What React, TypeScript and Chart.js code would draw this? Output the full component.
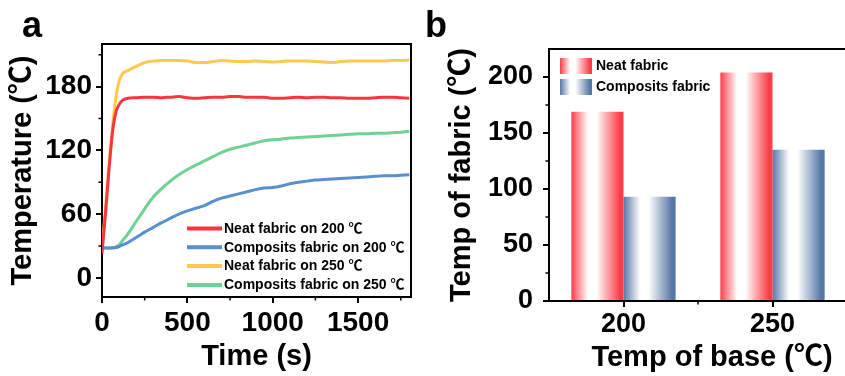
import React, { useEffect, useRef } from 'react';
import { Chart, registerables } from 'chart.js';

Chart.register(...registerables);

const FONT = "'Liberation Sans', Arial, 'Noto Sans CJK SC', sans-serif";

// ---------- Panel a data ----------
const timeSeconds = [0, 20, 40, 60, 80, 100, 120, 150, 200, 250, 300, 350, 400, 450, 500, 550, 600, 650, 700, 750, 800, 850, 900, 950, 1000, 1050, 1100, 1150, 1200, 1250, 1300, 1350, 1400, 1450, 1500, 1550, 1600, 1650, 1700, 1750, 1800];
const neatOn200 = [23, 60, 100, 135, 155, 163, 167, 169, 169.5, 170, 170, 169.5, 170, 170.5, 169.5, 169, 169.5, 170, 170, 170.5, 170.5, 170, 170, 170, 169, 169, 169.5, 170, 169.5, 170, 170, 169.5, 169.5, 169, 169, 169, 169.5, 170, 170, 169.5, 169];
const compositsOn200 = [28, 28, 28, 28, 28.5, 29.5, 31, 33, 38, 43, 47.5, 52, 56, 60, 63, 65.5, 68, 72, 75, 77, 79, 81, 83, 84.5, 85, 86.5, 88.5, 90, 91, 92, 92.5, 93, 93.5, 94, 94.5, 95, 95.5, 96, 96, 96.5, 97];
const neatOn250 = [27, 65, 105, 140, 168, 185, 192, 195, 199, 202.5, 204, 204.5, 204.5, 204.5, 204, 202.5, 202.5, 203.5, 204.5, 204, 203.5, 203.5, 204, 203.5, 203, 203.5, 204, 204, 204, 203.5, 203, 202.5, 203.5, 204, 204, 204, 204, 204, 204.5, 204.5, 205];
const compositsOn250 = [28, 28, 28, 28.5, 29, 31, 35, 41, 53, 65, 76, 84, 91, 97, 102, 106, 110, 114, 118, 121, 123, 125, 127, 129, 130, 130.5, 131.5, 132, 132.5, 133, 133.5, 134, 134.5, 135, 135.5, 135.5, 136, 136, 136.5, 137, 138];
const lineLabels = ['Neat fabric on 200 ℃', 'Composits fabric on 200 ℃', 'Neat fabric on 250 ℃', 'Composits fabric on 250 ℃'];
const lineColors = ['#f5363c', '#5790cc', '#ffc94d', '#6ed295'];
const yTicksA = [0, 60, 120, 180];
const yMinorA = [30, 90, 150, 210];
const xTicksA = [0, 500, 1000, 1500];
const xMinorA = [250, 750, 1250, 1750];

// ---------- Panel b data ----------
const baseTemps = ['200', '250'];
const neatFabric = [169, 204];
const compositsFabric = [93, 135];
const barLabels = ['Neat fabric', 'Composits fabric'];
const barColors = ['rgb(250,62,72)', 'rgb(86,120,166)'];
const yTicksB = [0, 50, 100, 150, 200];
const yMinorB = [25, 75, 125, 175];

function makeGrad(ctx: CanvasRenderingContext2D, x0: number, x1: number, color: string) {
  const g = ctx.createLinearGradient(x0, 0, x1, 0);
  g.addColorStop(0, color);
  g.addColorStop(0.32, '#ffffff');
  g.addColorStop(0.48, '#ffffff');
  g.addColorStop(0.93, color);
  g.addColorStop(1, color);
  return g;
}

function barGradient(c: any) {
  const chart = c.chart;
  const color = barColors[c.datasetIndex] || '#000';
  const xs = chart.scales && chart.scales.x;
  if (!xs || c.dataIndex === undefined || !chart.chartArea) return color;
  const center = xs.getPixelForValue(c.dataIndex);
  const cat = (xs.right - xs.left) / baseTemps.length;
  const size = cat * 0.7;
  const barW = size / 2;
  const left = center - size / 2 + c.datasetIndex * barW;
  return makeGrad(chart.ctx, left, left + barW, color);
}

const framePluginA = {
  id: 'frameA',
  afterDraw(chart: any) {
    const { ctx, chartArea: ca, scales } = chart;
    ctx.save();
    ctx.strokeStyle = '#000';
    ctx.lineWidth = 2;
    ctx.beginPath();
    ctx.moveTo(ca.left, ca.top);
    ctx.lineTo(ca.right, ca.top);
    ctx.lineTo(ca.right, ca.bottom);
    ctx.stroke();
    ctx.lineWidth = 1.5;
    ctx.beginPath();
    yMinorA.forEach((v) => {
      const y = scales.y.getPixelForValue(v);
      ctx.moveTo(ca.left - 3.5, y);
      ctx.lineTo(ca.left, y);
    });
    xMinorA.forEach((v) => {
      const x = scales.x.getPixelForValue(v);
      ctx.moveTo(x, ca.bottom);
      ctx.lineTo(x, ca.bottom + 3.5);
    });
    ctx.stroke();
    // legend
    ctx.font = `bold 14px ${FONT}`;
    ctx.textBaseline = 'middle';
    ctx.textAlign = 'left';
    chart.data.datasets.forEach((ds: any, i: number) => {
      const y = 228.5 + i * 18.8;
      ctx.strokeStyle = ds.borderColor;
      ctx.lineWidth = 4;
      ctx.beginPath();
      ctx.moveTo(187, y);
      ctx.lineTo(222, y);
      ctx.stroke();
      ctx.fillStyle = '#000';
      ctx.fillText(ds.label, 224, y + 0.5);
    });
    // panel letter
    ctx.font = `bold 36px ${FONT}`;
    ctx.textBaseline = 'alphabetic';
    ctx.fillStyle = '#000';
    ctx.fillText('a', 22, 37);
    ctx.restore();
  },
};

const framePluginB = {
  id: 'frameB',
  afterDraw(chart: any) {
    const { ctx, chartArea: ca, scales } = chart;
    ctx.save();
    ctx.strokeStyle = '#000';
    ctx.lineWidth = 2;
    ctx.beginPath();
    ctx.moveTo(ca.left, ca.top);
    ctx.lineTo(ca.right, ca.top);
    ctx.lineTo(ca.right, ca.bottom);
    ctx.stroke();
    ctx.lineWidth = 1.5;
    ctx.beginPath();
    yMinorB.forEach((v) => {
      const y = scales.y.getPixelForValue(v);
      ctx.moveTo(ca.left - 3.5, y);
      ctx.lineTo(ca.left, y);
    });
    const mid = (scales.x.getPixelForValue(0) + scales.x.getPixelForValue(1)) / 2;
    ctx.moveTo(mid, ca.bottom);
    ctx.lineTo(mid, ca.bottom + 3.5);
    ctx.stroke();
    // legend
    ctx.font = `bold 14px ${FONT}`;
    ctx.textBaseline = 'middle';
    ctx.textAlign = 'left';
    chart.data.datasets.forEach((ds: any, i: number) => {
      const top = 58 + i * 21;
      ctx.fillStyle = makeGrad(ctx, 140, 172, barColors[i]);
      ctx.fillRect(140, top, 32, 16);
      ctx.fillStyle = '#000';
      ctx.fillText(ds.label, 176, top + 8.5);
    });
    // x title
    ctx.font = `bold 29px ${FONT}`;
    ctx.textAlign = 'center';
    ctx.fillText('Temp of base (℃)', 292, 358);
    // panel letter
    ctx.font = `bold 36px ${FONT}`;
    ctx.textAlign = 'left';
    ctx.textBaseline = 'alphabetic';
    ctx.fillText('b', 5, 37);
    ctx.restore();
  },
};

const axisCommon = {
  grid: { drawOnChartArea: false, drawTicks: true, tickLength: 6, lineWidth: 2, color: '#000' },
  border: { display: true, color: '#000', width: 2 },
};

const plainNumber = (v: any) => String(v);

export default function App() {
  const refA = useRef<HTMLCanvasElement>(null);
  const refB = useRef<HTMLCanvasElement>(null);

  useEffect(() => {
    const series = [neatOn200, compositsOn200, neatOn250, compositsOn250];
    const chartA = new Chart(refA.current as HTMLCanvasElement, {
      type: 'line',
      data: {
        datasets: series.map((d, i) => ({
          label: lineLabels[i],
          data: timeSeconds.map((t, j) => ({ x: t, y: d[j] })),
          borderColor: lineColors[i],
          backgroundColor: lineColors[i],
          borderWidth: 3,
          pointRadius: 0,
          cubicInterpolationMode: 'monotone',
          fill: false,
        })),
      },
      options: {
        responsive: false,
        animation: false,
        layout: { padding: { top: 44, right: 9, left: 0, bottom: 0 } },
        plugins: { legend: { display: false }, tooltip: { enabled: false } },
        scales: {
          x: {
            type: 'linear',
            min: 0,
            max: 1810,
            ...axisCommon,
            afterBuildTicks: (s: any) => { s.ticks = xTicksA.map((v) => ({ value: v })); },
            afterFit: (s: any) => { s.height = 79; },
            ticks: { font: { family: FONT, size: 28, weight: 'bold' }, color: '#000', padding: 3, maxRotation: 0, autoSkip: false, callback: plainNumber },
            title: { display: true, text: 'Time (s)', color: '#000', font: { family: FONT, size: 29, weight: 'bold' }, padding: { top: 0, bottom: 1.6 } },
          },
          y: {
            type: 'linear',
            min: -18,
            max: 220,
            ...axisCommon,
            afterBuildTicks: (s: any) => { s.ticks = yTicksA.map((v) => ({ value: v })); },
            afterFit: (s: any) => { s.width = 102; },
            ticks: { font: { family: FONT, size: 28, weight: 'bold' }, color: '#000', padding: 4, autoSkip: false, callback: plainNumber },
            title: { display: true, text: 'Temperature (℃)', color: '#000', font: { family: FONT, size: 29, weight: 'bold' }, padding: { top: 5.6, bottom: 0 } },
          },
        },
      } as any,
      plugins: [framePluginA],
    } as any);

    const chartB = new Chart(refB.current as HTMLCanvasElement, {
      type: 'bar',
      data: {
        labels: baseTemps,
        datasets: [
          { label: barLabels[0], data: neatFabric, backgroundColor: barGradient, borderWidth: 0 },
          { label: barLabels[1], data: compositsFabric, backgroundColor: barGradient, borderWidth: 0 },
        ],
      },
      options: {
        responsive: false,
        animation: false,
        layout: { padding: { top: 49, right: 13, left: 0, bottom: 0 } },
        datasets: { bar: { barPercentage: 1, categoryPercentage: 0.7 } },
        plugins: { legend: { display: false }, tooltip: { enabled: false } },
        scales: {
          x: {
            type: 'category',
            offset: true,
            ...axisCommon,
            grid: { ...axisCommon.grid, offset: false },
            afterFit: (s: any) => { s.height = 75; },
            ticks: { font: { family: FONT, size: 27, weight: 'bold' }, color: '#000', padding: 1, maxRotation: 0 },
            title: { display: false },
          },
          y: {
            type: 'linear',
            min: 0,
            max: 225,
            ...axisCommon,
            afterBuildTicks: (s: any) => { s.ticks = yTicksB.map((v) => ({ value: v })); },
            afterFit: (s: any) => { s.width = 129; },
            ticks: { font: { family: FONT, size: 27, weight: 'bold' }, color: '#000', padding: 10, autoSkip: false, callback: plainNumber },
            title: { display: true, text: 'Temp of fabric (℃)', color: '#000', font: { family: FONT, size: 29, weight: 'bold' }, padding: { top: 24.6, bottom: 0 } },
          },
        },
      } as any,
      plugins: [framePluginB],
    } as any);

    return () => {
      chartA.destroy();
      chartB.destroy();
    };
  }, []);

  return (
    <div style={{ position: 'fixed', left: 0, top: 0, width: 845, height: 376, overflow: 'hidden', background: '#fff' }}>
      <canvas ref={refA} width={420} height={376} style={{ position: 'absolute', left: 0, top: 0, width: 420, height: 376 }} />
      <canvas ref={refB} width={440} height={376} style={{ position: 'absolute', left: 420, top: 0, width: 440, height: 376 }} />
    </div>
  );
}
